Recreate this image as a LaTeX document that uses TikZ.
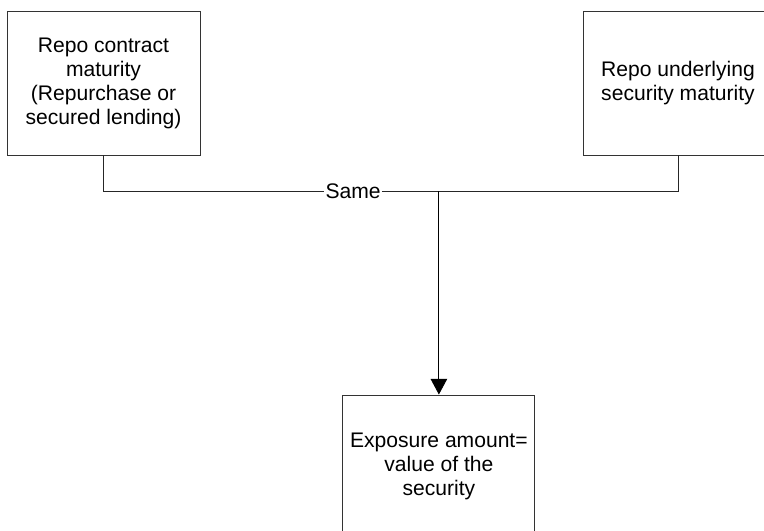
\documentclass[tikz,border=0pt]{standalone}
\usepackage{fontspec}
\setmainfont{Liberation Sans}
\usetikzlibrary{arrows.meta, positioning}
\tikzset{
  >={Triangle[length=0.52cm, width=0.55cm]},
  every picture/.style={line join=miter},
  box/.style={draw=black!80, line width=0.8pt, align=center,
    minimum width=6.43cm, minimum height=4.77cm,
    font=\fontsize{20}{23}\selectfont},
  link/.style={black!85, line width=0.8pt},
  lbl/.style={fill=white, inner sep=1pt, font=\fontsize{20}{23}\selectfont},
}
\begin{document}
\begin{tikzpicture}
  \useasboundingbox (0,0) rectangle (25.467,-17.7);
  % the two maturities
  \node[box] (contract) at (3.45,-2.78) {Repo contract\\maturity\\(Repurchase or\\secured lending)};
  \node[box, minimum width=6.33cm] (underlying) at (22.6,-2.78) {Repo underlying\\security maturity};
  % result
  \node[box, minimum width=6.4cm] (exposure) at (14.63,-15.55) {Exposure amount=\\value of the\\security};
  \node[lbl] (same) at (11.77,-6.37) {Same};
  \coordinate (join) at (exposure.north |- same);
  \draw[link] (contract.south) |- (same.west);
  \draw[link] (same.east) -| (underlying.south);
  \draw[link, black, ->] (join) -- (exposure.north);
\end{tikzpicture}
\end{document}
